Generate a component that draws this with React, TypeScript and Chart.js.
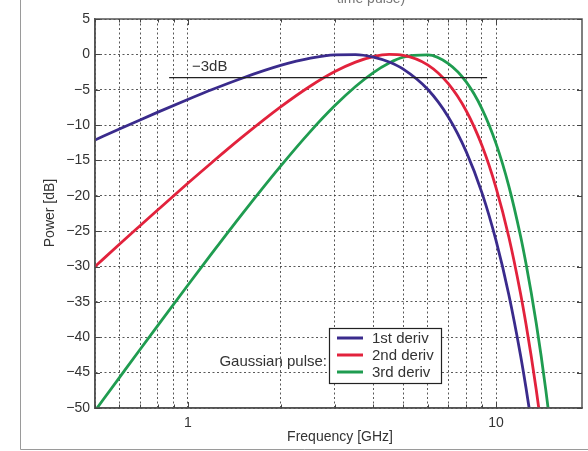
import React, { useEffect, useRef } from 'react';
import { Chart, registerables } from 'chart.js';

Chart.register(...registerables);

// ---- data ----
const frequencies = [0.5, 0.6, 0.7, 0.8, 1, 1.2, 1.5, 2, 2.5, 3, 3.5, 4, 4.5, 5, 6, 7, 8, 9, 10, 11, 12, 12.5, 13, 13.5, 14, 14.5, 15, 15.5];
const power1st = [-12.1, -10.56, -9.27, -8.17, -6.38, -4.97, -3.37, -1.57, -0.54, -0.07, -0.04, -0.39, -1.09, -2.09, -4.94, -8.85, -13.75, -19.59, -26.35, -33.99, -42.5, -47.1, -51.9, -56.9, -62.2, null, null, null];
const power2nd = [-30.0, -26.85, -24.23, -21.97, -18.23, -15.25, -11.71, -7.43, -4.47, -2.43, -1.09, -0.31, -0.01, -0.13, -1.48, -4.14, -7.97, -12.9, -18.87, -25.83, -33.77, -38.08, -42.64, -47.42, -52.43, -57.67, -63.14, null];
const power3rd = [-50.4, -45.7, -41.73, -38.31, -32.64, -28.07, -22.58, -15.8, -10.88, -7.24, -4.54, -2.57, -1.22, -0.39, -0.08, -1.32, -3.9, -7.7, -12.62, -18.62, -25.64, -29.53, -33.66, -38.02, -42.62, -47.47, -52.54, -57.84];

const seriesNames = ['1st deriv', '2nd deriv', '3rd deriv'];
const seriesColors = ['#3a2b8c', '#e2223c', '#1f9c50'];

const xTickValues = [0.5, 0.6, 0.7, 0.8, 0.9, 1, 2, 3, 4, 5, 6, 7, 8, 9, 10];
const xMajorTicks = [1, 10];
const yTickValues = [5, 0, -5, -10, -15, -20, -25, -30, -35, -40, -45, -50];

const threeDbLevel = -3.3;
const threeDbRange = [0.87, 9.35];
const threeDbLabel = '\u22123dB';
const legendTitle = 'Gaussian pulse:';
const xTitle = 'Frequency [GHz]';
const yTitle = 'Power [dB]';
const topFragment = 'time pulse)';

const FONT = '"Liberation Sans", Arial, Helvetica, sans-serif';
const TEXT = '#333';
const GRID = 'rgba(60,60,60,0.85)';

const decorPlugin = {
  id: 'decor',
  afterDraw(chart: any) {
    const { ctx, chartArea: a, scales } = chart;
    const xs = scales.x;
    const ys = scales.y;
    ctx.save();
    // outer figure frame
    ctx.strokeStyle = '#9a9a9a';
    ctx.lineWidth = 1;
    ctx.beginPath();
    ctx.moveTo(20.5, 0);
    ctx.lineTo(20.5, 449.5);
    ctx.lineTo(588, 449.5);
    ctx.stroke();

    // axes box
    ctx.strokeStyle = '#555';
    ctx.lineWidth = 1.5;
    ctx.strokeRect(a.left, a.top, a.right - a.left, a.bottom - a.top);

    // inward ticks
    ctx.lineWidth = 1;
    ctx.strokeStyle = '#444';
    ctx.beginPath();
    xTickValues.forEach((v) => {
      const px = Math.round(xs.getPixelForValue(v)) + 0.5;
      const len = xMajorTicks.includes(v) ? 6 : 3.5;
      ctx.moveTo(px, a.bottom);
      ctx.lineTo(px, a.bottom - len);
      ctx.moveTo(px, a.top);
      ctx.lineTo(px, a.top + len);
    });
    yTickValues.forEach((v) => {
      const py = Math.round(ys.getPixelForValue(v)) + 0.5;
      ctx.moveTo(a.left, py);
      ctx.lineTo(a.left + 5, py);
      ctx.moveTo(a.right, py);
      ctx.lineTo(a.right - 5, py);
    });
    ctx.stroke();

    // -3dB label
    ctx.fillStyle = TEXT;
    ctx.font = `15px ${FONT}`;
    ctx.textBaseline = 'middle';
    ctx.textAlign = 'left';
    ctx.fillText(threeDbLabel, 192, 67);

    // legend
    const lx = 329.5, ly = 328.5, lw = 112, lh = 55;
    ctx.fillStyle = '#fff';
    ctx.fillRect(lx, ly, lw, lh);
    ctx.strokeStyle = '#222';
    ctx.lineWidth = 1.2;
    ctx.strokeRect(lx, ly, lw, lh);
    const rows = [338, 355, 372];
    seriesNames.forEach((name, i) => {
      ctx.strokeStyle = seriesColors[i];
      ctx.lineWidth = 3;
      ctx.beginPath();
      ctx.moveTo(337, rows[i]);
      ctx.lineTo(363, rows[i]);
      ctx.stroke();
      ctx.fillStyle = TEXT;
      ctx.textAlign = 'left';
      ctx.fillText(name, 372, rows[i] + 1);
    });
    ctx.textAlign = 'right';
    ctx.fillText(legendTitle, 327, 362);

    // axis titles
    ctx.font = `14px ${FONT}`;
    ctx.textAlign = 'center';
    ctx.fillText(xTitle, 340, 437);
    ctx.save();
    ctx.translate(50, 213);
    ctx.rotate(-Math.PI / 2);
    ctx.fillText(yTitle, 0, 0);
    ctx.restore();

    // cropped title fragment at top
    ctx.fillStyle = '#777';
    ctx.textBaseline = 'alphabetic';
    ctx.fillText(topFragment, 371, 3);
    ctx.restore();
  },
};

export default function App() {
  const canvasRef = useRef<HTMLCanvasElement | null>(null);

  useEffect(() => {
    if (!canvasRef.current) return;
    const mk = (vals: (number | null)[]) => frequencies.map((f, i) => ({ x: f, y: vals[i] }));
    const chart = new Chart(canvasRef.current, {
      type: 'line',
      data: {
        datasets: [
          {
            label: '-3dB',
            data: [
              { x: threeDbRange[0], y: threeDbLevel },
              { x: threeDbRange[1], y: threeDbLevel },
            ],
            borderColor: '#222',
            borderWidth: 1.2,
            pointRadius: 0,
            tension: 0,
          },
          ...[power1st, power2nd, power3rd].map((vals, i) => ({
            label: seriesNames[i],
            data: mk(vals),
            borderColor: seriesColors[i],
            borderWidth: 2.8,
            pointRadius: 0,
            cubicInterpolationMode: 'monotone' as const,
            clip: 0,
          })),
        ],
      } as any,
      options: {
        animation: false,
        responsive: false,
        maintainAspectRatio: false,
        layout: { padding: { top: 19, right: 6, left: 0, bottom: 0 } },
        plugins: { legend: { display: false }, tooltip: { enabled: false }, title: { display: false } },
        scales: {
          x: {
            type: 'logarithmic',
            min: 0.5,
            max: 19,
            afterBuildTicks: (s: any) => {
              s.ticks = xTickValues.map((v) => ({ value: v }));
            },
            afterFit: (s: any) => {
              s.height = 43;
            },
            ticks: {
              autoSkip: false,
              maxRotation: 0,
              minRotation: 0,
              padding: 7,
              color: TEXT,
              font: { family: FONT, size: 14 },
              callback: (v: any) => (xMajorTicks.includes(Number(v)) ? String(v) : ''),
            },
            grid: { color: GRID, lineWidth: 1, drawTicks: false },
            border: { display: true, color: '#555', width: 1.5, dash: [2, 2.5] },
          },
          y: {
            type: 'linear',
            min: -50,
            max: 5,
            afterBuildTicks: (s: any) => {
              s.ticks = yTickValues.map((v) => ({ value: v }));
            },
            afterFit: (s: any) => {
              s.width = 95;
            },
            ticks: {
              padding: 5,
              color: TEXT,
              font: { family: FONT, size: 14 },
              callback: (v: any) => (Number(v) < 0 ? '\u2212' + Math.abs(Number(v)) : String(v)),
            },
            grid: { color: GRID, lineWidth: 1, drawTicks: false },
            border: { display: true, color: '#555', width: 1.5, dash: [2, 2.5] },
          },
        },
      } as any,
      plugins: [decorPlugin],
    });
    return () => chart.destroy();
  }, []);

  return (
    <div style={{ position: 'fixed', left: 0, top: 0, width: 588, height: 451, background: '#fff' }}>
      <canvas ref={canvasRef} width={588} height={451} style={{ width: 588, height: 451, display: 'block' }} />
    </div>
  );
}
